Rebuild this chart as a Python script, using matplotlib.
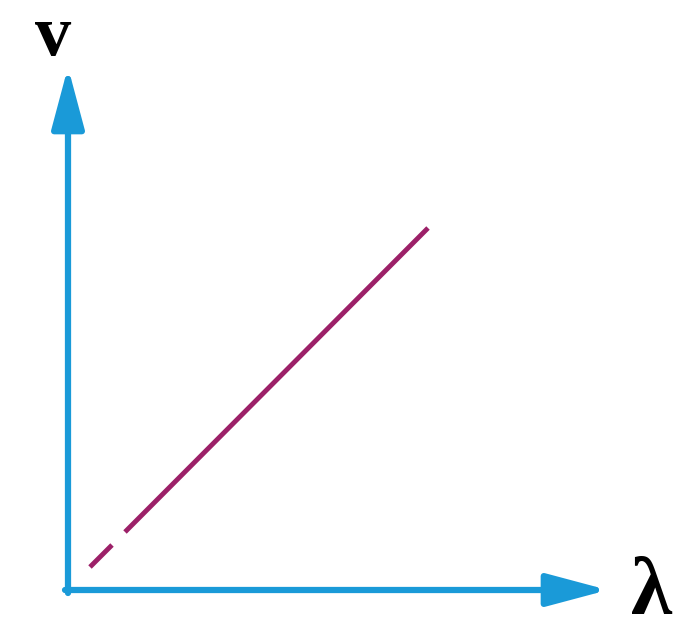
import matplotlib
matplotlib.use('Agg')
import matplotlib.pyplot as plt

# axis arrow ends (data units, origin at the corner of the axes)
xAxisEnd = 540
yAxisEnd = 523

# v against lambda line: short dash near the origin, then solid
dashX = [22, 44]
dashY = [23, 45]
lineX = [57, 360]
lineY = [58, 362]

axisColor = '#1a9ad8'
lineColor = '#9c2068'

fig = plt.figure(figsize=(6.8, 6.35), dpi=100)
ax = fig.add_axes([0, 0, 1, 1])
ax.set_xlim(-68, 612)
ax.set_ylim(-45, 590)
ax.axis('off')

arrowProps = dict(arrowstyle='-|>,head_length=1.5,head_width=0.4', color=axisColor,
                  lw=4.5, shrinkA=0, shrinkB=0, mutation_scale=25)
ax.annotate('', xy=(xAxisEnd, 0), xytext=(-3, 0), arrowprops=arrowProps)
ax.annotate('', xy=(0, yAxisEnd), xytext=(0, -3), arrowprops=arrowProps)

ax.plot(dashX, dashY, color=lineColor, lw=3.5, solid_capstyle='butt')
ax.plot(lineX, lineY, color=lineColor, lw=3.5, solid_capstyle='butt')

ax.text(-15, 535, 'v', fontsize=52, family='Liberation Serif', fontweight='bold',
        ha='center', va='baseline')
ax.text(584, -5, 'λ', fontsize=60, family='Liberation Serif', fontweight='bold',
        ha='center', va='center')

fig.savefig('out.png', dpi=100)
